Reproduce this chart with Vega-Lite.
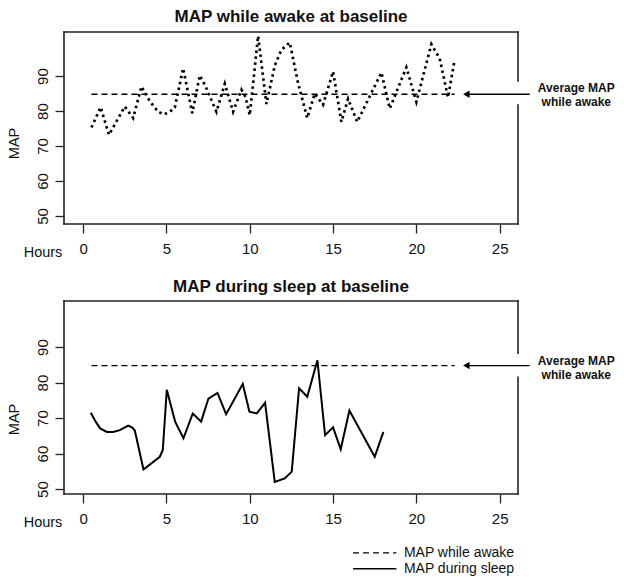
{
  "$schema": "https://vega.github.io/schema/vega-lite/v6.json",
  "padding": {"left": 6, "top": 8, "right": 0, "bottom": 0},
  "spacing": 18,
  "config": {
    "view": {"stroke": null},
    "font": "Liberation Sans",
    "axis": {"domain": false, "grid": false, "tickColor": "#222", "tickWidth": 1.3, "tickSize": 9,
      "labelFont": "Liberation Sans", "labelFontSize": 15, "labelColor": "#111",
      "titleFont": "Liberation Sans", "titleFontSize": 14.5, "titleFontWeight": "normal", "titleColor": "#111"},
    "title": {"font": "Liberation Sans", "fontSize": 17, "fontWeight": "bold", "color": "#111", "offset": 4, "anchor": "middle", "frame": "group"}
  },
  "datasets": {
    "awake": [
      {"hours": 0.5, "map": 75.3}, {"hours": 1.05, "map": 81.1}, {"hours": 1.55, "map": 73.2}, {"hours": 2.5, "map": 81.3},
      {"hours": 3.0, "map": 78}, {"hours": 3.5, "map": 87}, {"hours": 4.0, "map": 82.8}, {"hours": 4.5, "map": 79.8},
      {"hours": 4.85, "map": 79}, {"hours": 5.2, "map": 79.8}, {"hours": 5.5, "map": 81}, {"hours": 6.0, "map": 92.2},
      {"hours": 6.55, "map": 79.4}, {"hours": 7.0, "map": 90.2}, {"hours": 7.35, "map": 87}, {"hours": 8.0, "map": 79.8},
      {"hours": 8.5, "map": 87.8}, {"hours": 9.0, "map": 79.8}, {"hours": 9.5, "map": 86.1}, {"hours": 9.75, "map": 84},
      {"hours": 10.0, "map": 78.8}, {"hours": 10.5, "map": 101.5}, {"hours": 11.0, "map": 82}, {"hours": 11.5, "map": 93},
      {"hours": 11.9, "map": 97.5}, {"hours": 12.4, "map": 99.6}, {"hours": 12.9, "map": 88}, {"hours": 13.45, "map": 78},
      {"hours": 13.9, "map": 85}, {"hours": 14.4, "map": 81.8}, {"hours": 15.0, "map": 91.3}, {"hours": 15.5, "map": 76.9},
      {"hours": 15.9, "map": 83.5}, {"hours": 16.45, "map": 76.9}, {"hours": 17.9, "map": 91}, {"hours": 18.4, "map": 80.7},
      {"hours": 19.4, "map": 92.5}, {"hours": 20.0, "map": 82.6}, {"hours": 20.9, "map": 99.1}, {"hours": 21.4, "map": 95},
      {"hours": 21.9, "map": 83.9}, {"hours": 22.3, "map": 94.7}
    ],
    "sleep": [
      {"hours": 0.46, "map": 71.5}, {"hours": 0.75, "map": 69}, {"hours": 1.02, "map": 67.1}, {"hours": 1.42, "map": 66.1},
      {"hours": 1.8, "map": 66.1}, {"hours": 2.2, "map": 66.6}, {"hours": 2.7, "map": 67.9}, {"hours": 2.95, "map": 67.3},
      {"hours": 3.1, "map": 66.5}, {"hours": 3.62, "map": 55.5}, {"hours": 4.6, "map": 59.1}, {"hours": 4.78, "map": 61},
      {"hours": 5.02, "map": 78}, {"hours": 5.52, "map": 69}, {"hours": 6.02, "map": 64.3}, {"hours": 6.58, "map": 71.3},
      {"hours": 7.08, "map": 69}, {"hours": 7.52, "map": 75.5}, {"hours": 8.06, "map": 77.1}, {"hours": 8.58, "map": 71.1},
      {"hours": 9.58, "map": 79.6}, {"hours": 9.98, "map": 71.8}, {"hours": 10.42, "map": 71.3}, {"hours": 10.92, "map": 74.3},
      {"hours": 11.5, "map": 52}, {"hours": 12.1, "map": 53}, {"hours": 12.52, "map": 54.9}, {"hours": 12.96, "map": 78.4},
      {"hours": 13.45, "map": 76}, {"hours": 14.06, "map": 86.3}, {"hours": 14.52, "map": 65.2}, {"hours": 15.0, "map": 67.4},
      {"hours": 15.46, "map": 61.2}, {"hours": 15.98, "map": 72.1}, {"hours": 17.5, "map": 59.1}, {"hours": 18.02, "map": 66.1}
    ],
    "average": [
      {"hours": 0.5, "map": 84.8}, {"hours": 22.3, "map": 84.8}
    ],
    "one": [{}]
  },
  "vconcat": [
    {
      "width": 454,
      "height": 192,
      "title": "MAP while awake at baseline",
      "layer": [
        {
          "data": {"name": "awake"},
          "mark": {"type": "line", "color": "black", "strokeWidth": 2.7, "strokeDash": [2.5, 3.5], "strokeCap": "butt"},
          "encoding": {
            "x": {"field": "hours", "type": "quantitative", "scale": {"domain": [-1.15, 26.1], "nice": false, "zero": false},
              "axis": {"values": [0, 5, 10, 15, 20, 25], "title": "Hours", "titleAngle": 0, "titleAlign": "center", "titleBaseline": "middle", "titleX": -21.5, "titleY": 28, "labelPadding": 8, "labelFlush": false}},
            "y": {"field": "map", "type": "quantitative", "scale": {"domain": [47.7, 102.6], "nice": false, "zero": false},
              "axis": {"values": [50, 60, 70, 80, 90], "title": "MAP", "labelAngle": -90, "labelAlign": "center", "labelBaseline": "bottom", "labelPadding": 5, "titleAngle": -90, "titleAlign": "center", "titleBaseline": "middle", "titleX": -49.5, "titleY": 111}}
          }
        },
        {
          "data": {"name": "average"},
          "mark": {"type": "line", "color": "black", "strokeWidth": 1.3, "strokeDash": [6, 4]},
          "encoding": {"x": {"field": "hours", "type": "quantitative"}, "y": {"field": "map", "type": "quantitative"}}
        },
        {"data": {"name": "one"}, "mark": {"type": "rule", "color": "#222", "strokeWidth": 1.6, "strokeCap": "square", "clip": false},
          "encoding": {"x": {"datum": -1.15}, "x2": {"datum": 26.1}, "y": {"datum": 102.6}}},
        {"data": {"name": "one"}, "mark": {"type": "rule", "color": "#222", "strokeWidth": 1.6, "strokeCap": "square", "clip": false},
          "encoding": {"x": {"datum": -1.15}, "x2": {"datum": 26.1}, "y": {"datum": 47.7}}},
        {"data": {"name": "one"}, "mark": {"type": "rule", "color": "#222", "strokeWidth": 1.6, "strokeCap": "square", "clip": false},
          "encoding": {"x": {"datum": -1.15}, "y": {"datum": 47.7}, "y2": {"datum": 102.6}}},
        {"data": {"name": "one"}, "mark": {"type": "rule", "color": "#222", "strokeWidth": 1.6, "strokeCap": "square", "clip": false},
          "encoding": {"x": {"datum": 26.1}, "y": {"datum": 47.7}, "y2": {"datum": 81.7}}},
        {"data": {"name": "one"}, "mark": {"type": "rule", "color": "#222", "strokeWidth": 1.6, "strokeCap": "square", "clip": false},
          "encoding": {"x": {"datum": 26.1}, "y": {"datum": 88.6}, "y2": {"datum": 102.6}}},
        {"data": {"name": "one"}, "mark": {"type": "rule", "color": "black", "strokeWidth": 1.3, "clip": false},
          "encoding": {"x": {"datum": 23.0}, "x2": {"datum": 26.8}, "y": {"datum": 84.8}}},
        {"data": {"name": "one"}, "mark": {"type": "point", "shape": "triangle-left", "filled": true, "color": "black", "size": 55, "opacity": 1, "clip": false},
          "encoding": {"x": {"datum": 23.0}, "y": {"datum": 84.8}}},
        {"data": {"name": "one"}, "mark": {"type": "text", "text": ["Average MAP", "while awake"], "fontSize": 12, "fontWeight": "bold", "color": "#111", "align": "center", "baseline": "middle", "lineHeight": 14, "dy": -6, "clip": false},
          "encoding": {"x": {"datum": 29.6}, "y": {"datum": 84.8}}}
      ]
    },
    {
      "width": 454,
      "height": 193,
      "title": "MAP during sleep at baseline",
      "layer": [
        {
          "data": {"name": "sleep"},
          "mark": {"type": "line", "color": "black", "strokeWidth": 2},
          "encoding": {
            "x": {"field": "hours", "type": "quantitative", "scale": {"domain": [-1.15, 26.1], "nice": false, "zero": false},
              "axis": {"values": [0, 5, 10, 15, 20, 25], "title": "Hours", "titleAngle": 0, "titleAlign": "center", "titleBaseline": "middle", "titleX": -21.5, "titleY": 28, "labelPadding": 8, "labelFlush": false}},
            "y": {"field": "map", "type": "quantitative", "scale": {"domain": [48.6, 103], "nice": false, "zero": false},
              "axis": {"values": [50, 60, 70, 80, 90], "title": "MAP", "labelAngle": -90, "labelAlign": "center", "labelBaseline": "bottom", "labelPadding": 5, "titleAngle": -90, "titleAlign": "center", "titleBaseline": "middle", "titleX": -49.5, "titleY": 118}}
          }
        },
        {
          "data": {"name": "average"},
          "mark": {"type": "line", "color": "black", "strokeWidth": 1.3, "strokeDash": [6, 4]},
          "encoding": {"x": {"field": "hours", "type": "quantitative"}, "y": {"field": "map", "type": "quantitative"}}
        },
        {"data": {"name": "one"}, "mark": {"type": "rule", "color": "#222", "strokeWidth": 1.6, "strokeCap": "square", "clip": false},
          "encoding": {"x": {"datum": -1.15}, "x2": {"datum": 26.1}, "y": {"datum": 103}}},
        {"data": {"name": "one"}, "mark": {"type": "rule", "color": "#222", "strokeWidth": 1.6, "strokeCap": "square", "clip": false},
          "encoding": {"x": {"datum": -1.15}, "x2": {"datum": 26.1}, "y": {"datum": 48.6}}},
        {"data": {"name": "one"}, "mark": {"type": "rule", "color": "#222", "strokeWidth": 1.6, "strokeCap": "square", "clip": false},
          "encoding": {"x": {"datum": -1.15}, "y": {"datum": 48.6}, "y2": {"datum": 103}}},
        {"data": {"name": "one"}, "mark": {"type": "rule", "color": "#222", "strokeWidth": 1.6, "strokeCap": "square", "clip": false},
          "encoding": {"x": {"datum": 26.1}, "y": {"datum": 48.6}, "y2": {"datum": 81.5}}},
        {"data": {"name": "one"}, "mark": {"type": "rule", "color": "#222", "strokeWidth": 1.6, "strokeCap": "square", "clip": false},
          "encoding": {"x": {"datum": 26.1}, "y": {"datum": 88.3}, "y2": {"datum": 103}}},
        {"data": {"name": "one"}, "mark": {"type": "rule", "color": "black", "strokeWidth": 1.3, "clip": false},
          "encoding": {"x": {"datum": 23.0}, "x2": {"datum": 26.8}, "y": {"datum": 84.8}}},
        {"data": {"name": "one"}, "mark": {"type": "point", "shape": "triangle-left", "filled": true, "color": "black", "size": 55, "opacity": 1, "clip": false},
          "encoding": {"x": {"datum": 23.0}, "y": {"datum": 84.8}}},
        {"data": {"name": "one"}, "mark": {"type": "text", "text": ["Average MAP", "while awake"], "fontSize": 12, "fontWeight": "bold", "color": "#111", "align": "center", "baseline": "middle", "lineHeight": 14, "dy": -5, "clip": false},
          "encoding": {"x": {"datum": 29.6}, "y": {"datum": 84.8}}},
        {"data": {"name": "one"}, "mark": {"type": "rule", "color": "black", "strokeWidth": 1.3, "strokeDash": [6, 4], "clip": false},
          "encoding": {"x": {"datum": 16.2}, "x2": {"datum": 18.8}, "y": {"datum": 32.0}}},
        {"data": {"name": "one"}, "mark": {"type": "rule", "color": "black", "strokeWidth": 1.5, "clip": false},
          "encoding": {"x": {"datum": 16.2}, "x2": {"datum": 18.8}, "y": {"datum": 27.5}}},
        {"data": {"name": "one"}, "mark": {"type": "text", "text": "MAP while awake", "fontSize": 14, "color": "#111", "align": "left", "baseline": "middle", "clip": false},
          "encoding": {"x": {"datum": 19.25}, "y": {"datum": 32.0}}},
        {"data": {"name": "one"}, "mark": {"type": "text", "text": "MAP during sleep", "fontSize": 14, "color": "#111", "align": "left", "baseline": "middle", "clip": false},
          "encoding": {"x": {"datum": 19.25}, "y": {"datum": 27.5}}}
      ]
    }
  ]
}
